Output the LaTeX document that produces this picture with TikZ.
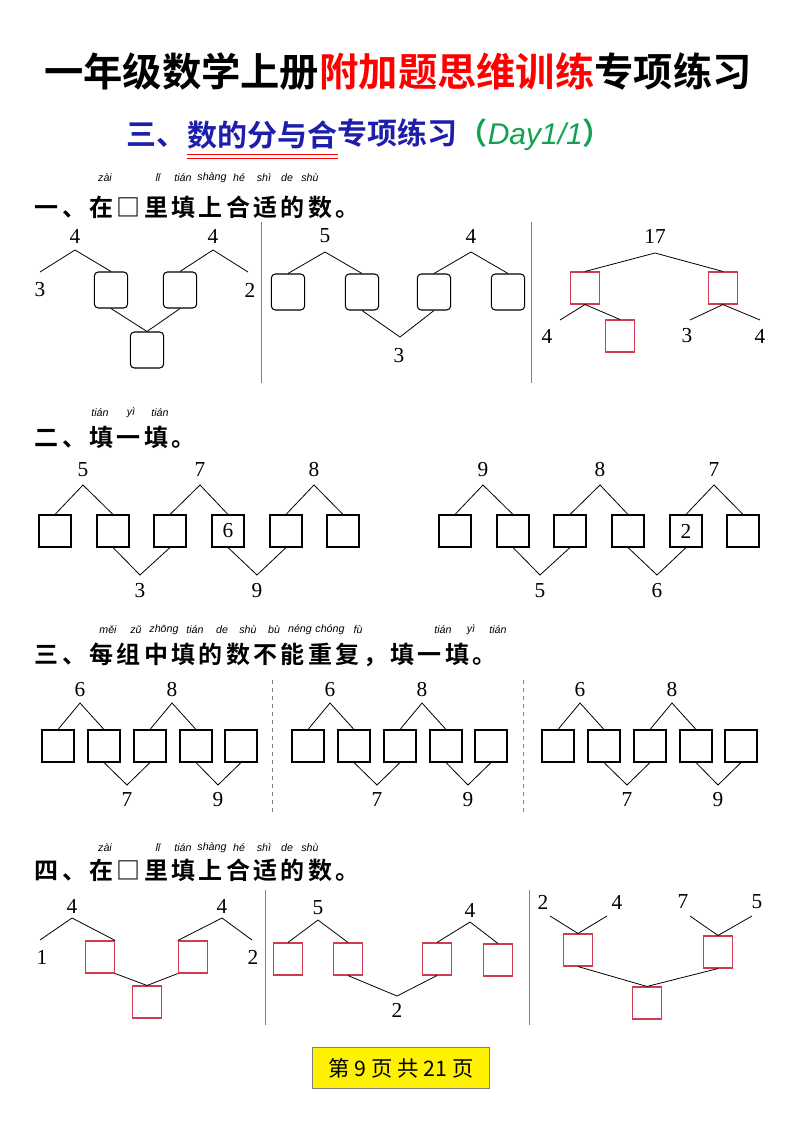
\documentclass[tikz,border=0pt]{standalone}
\usepackage{fontspec}
\setmainfont{Liberation Serif}
\newfontfamily\cjk{Noto Sans CJK SC}
\newfontfamily\cjkb{Noto Sans CJK SC Bold}
\newfontfamily\cjksp[LetterSpace=14]{Noto Sans CJK SC Bold}
\newfontfamily\pyf{Liberation Sans}
\definecolor{rbox}{RGB}{205,60,80}
\definecolor{ttl}{RGB}{30,30,170}
\definecolor{grn}{RGB}{20,160,80}
\begin{document}
\begin{tikzpicture}[x=0.75pt,y=-0.75pt,
  num/.style={font=\fontsize{16}{16}\selectfont},
  bx/.style={draw,thick,rounded corners=3pt,minimum width=25pt,minimum height=27pt,inner sep=0pt},
  sb/.style={draw,thick,minimum width=24pt,minimum height=24pt,inner sep=0pt,font=\fontsize{15}{15}\selectfont},
  rb/.style={draw=rbox,thick,minimum width=22pt,minimum height=24pt,inner sep=0pt},
  ln/.style={line width=0.6pt},
  hd/.style={font=\cjksp\fontsize{18}{18}\selectfont,anchor=west},
  st/.style={font=\cjkb\fontsize{22.5}{22.5}\selectfont,inner sep=0pt,text=ttl},
  py/.style={font=\pyf\itshape\fontsize{8}{8}\selectfont}]
\useasboundingbox (0,0) rectangle (800,1132);
% titles
\node (t1) at (398,72) {\cjkb\fontsize{29.5}{29.5}\selectfont 一年级数学上册\textcolor{red}{附加题思维训练}专项练习};
\node[st,anchor=east] (s1) at (187,135) {三、};
\node[st,anchor=west] (s2) at (s1.east) {数的分与合};
\node[st,anchor=west] (s3) at (s2.east) {专项练习\textcolor{grn}{（\pyf\itshape Day1/1\cjkb）}};
\draw[red,line width=0.8pt] ([yshift=-4pt]s2.south west) -- ([yshift=-4pt]s2.south east)
  ([yshift=-7pt]s2.south west) -- ([yshift=-7pt]s2.south east);
% section 1
\node[hd] (h1) at (30,207) {一、在□里填上合适的数。};
\foreach \p/\x in {zài/105,lǐ/158,tián/183,shàng/212,hé/239,shì/264,de/287,shù/310}{\node[py] at (\x,178) {\p};}
\draw[gray] (261,222) -- (261,383) (531,222) -- (531,383);
\node[num] (a1) at (75,236) {4}; \node[num] (a2) at (213,236) {4};
\node[num] at (40,290) {3}; \node[num] at (250,290) {2};
\node[bx] (b1) at (111,290) {}; \node[bx] (b2) at (180,290) {}; \node[bx] (b3) at (147,350) {};
\coordinate (p1) at (75,250); \coordinate (p2) at (213,250);
\draw[ln] (40,272) -- (p1) -- (b1.north); \draw[ln] (b2.north) -- (p2) -- (248,272);
\draw[ln] (b1.south) -- (b3.north) -- (b2.south);
\node[num] at (325,236) {5}; \node[num] at (471,236) {4};
\node[bx] (c1) at (288,292) {}; \node[bx] (c2) at (362,292) {}; \node[bx] (c3) at (434,292) {}; \node[bx] (c4) at (508,292) {};
\coordinate (q1) at (325,252); \coordinate (q2) at (471,252); \coordinate (q3) at (400,337);
\draw[ln] (c1.north) -- (q1) -- (c2.north); \draw[ln] (c3.north) -- (q2) -- (c4.north);
\draw[ln] (c2.south) -- (q3) -- (c3.south);
\node[num] at (399,356) {3};
\node[num] (d0) at (655,236) {17};
\node[rb] (d1) at (585,288) {}; \node[rb] (d2) at (723,288) {}; \node[rb] (d3) at (620,336) {};
\coordinate (r1) at (655,253);
\draw[ln] (d1.north) -- (r1) -- (d2.north);
\draw[ln] (560,320) -- (d1.south) -- (d3.north); \draw[ln] (690,320) -- (d2.south) -- (760,320);
\node[num] at (547,336) {4}; \node[num] at (687,336) {3}; \node[num] at (760,336) {4};
% section 2
\node[hd] (h2) at (30,437) {二、填一填。};
\foreach \p/\x in {tián/100,yì/131,tián/160}{\node[py] at (\x,413) {\p};}
\foreach \o/\na/\nb/\nc/\nd/\ne in {0/5/7/8/3/9,400/9/8/7/5/6}{
  \begin{scope}[xshift=\o*0.75pt]
  \node[num] at (83,470) {\na}; \node[num] at (200,470) {\nb}; \node[num] at (314,470) {\nc};
  \foreach \i/\x in {1/55,2/113,3/170,4/228,5/286,6/343}{\node[sb] (e\i) at (\x,531) {};}
  \foreach \a/\b/\x in {1/2/83,3/4/200,5/6/314}{\coordinate (ap) at (\x,485); \draw[ln] (e\a.north) -- (ap) -- (e\b.north);}
  \coordinate (v1) at (140,575); \coordinate (v2) at (257,575);
  \draw[ln] (e2.south) -- (v1) -- (e3.south); \draw[ln] (e4.south) -- (v2) -- (e5.south);
  \node[num] at (140,591) {\nd}; \node[num] at (257,591) {\ne};
  \end{scope}}
\node[num] at (228,531) {6}; \node[num] at (686,531) {2};
% section 3
\node[hd] (h3) at (30,655) {三、每组中填的数不能重复，填一填。};
\foreach \p/\x in {měi/108,zǔ/136,zhōng/164,tián/195,de/222,shù/248,bù/274,néng/300,chóng/330,fù/358,tián/443,yì/471,tián/498}{\node[py] at (\x,630) {\p};}
\draw[gray,dashed] (272,680) -- (272,815) (523,680) -- (523,815);
\foreach \o in {0,250,500}{
  \begin{scope}[xshift=\o*0.75pt]
  \node[num] at (80,690) {6}; \node[num] at (172,690) {8};
  \foreach \i/\x in {1/58,2/104,3/150,4/196,5/241}{\node[sb] (f\i) at (\x,746) {};}
  \coordinate (g1) at (80,703); \coordinate (g2) at (172,703);
  \coordinate (w1) at (127,785); \coordinate (w2) at (218,785);
  \draw[ln] (f1.north) -- (g1) -- (f2.north); \draw[ln] (f3.north) -- (g2) -- (f4.north);
  \draw[ln] (f2.south) -- (w1) -- (f3.south); \draw[ln] (f4.south) -- (w2) -- (f5.south);
  \node[num] at (127,800) {7}; \node[num] at (218,800) {9};
  \end{scope}}
% section 4
\node[hd] (h4) at (30,870) {四、在□里填上合适的数。};
\foreach \p/\x in {zài/105,lǐ/158,tián/183,shàng/212,hé/239,shì/264,de/287,shù/310}{\node[py] at (\x,848) {\p};}
\draw[gray] (265,890) -- (265,1025) (529,890) -- (529,1025);
\node[num] at (72,906) {4}; \node[num] at (222,906) {4};
\node[num] at (42,957) {1}; \node[num] at (253,957) {2};
\node[rb] (k1) at (100,957) {}; \node[rb] (k2) at (193,957) {}; \node[rb] (k3) at (147,1002) {};
\coordinate (m1) at (72,918); \coordinate (m2) at (222,918);
\draw[ln] (40,940) -- (m1) -- (k1.north east); \draw[ln] (k2.north west) -- (m2) -- (252,940);
\draw[ln] (k1.south east) -- (k3.north) -- (k2.south west);
\node[num] at (318,908) {5}; \node[num] at (470,910) {4};
\node[rb] (l1) at (288,959) {}; \node[rb] (l2) at (348,959) {}; \node[rb] (l3) at (437,959) {}; \node[rb] (l4) at (498,960) {};
\coordinate (n1) at (318,920); \coordinate (n2) at (470,922); \coordinate (n3) at (397,996);
\draw[ln] (l1.north) -- (n1) -- (l2.north); \draw[ln] (l3.north) -- (n2) -- (l4.north);
\draw[ln] (l2.south) -- (n3) -- (l3.south);
\node[num] at (397,1010) {2};
\node[num] at (543,902) {2}; \node[num] at (617,902) {4}; \node[num] at (683,902) {7}; \node[num] at (757,902) {5};
\node[rb] (s1) at (578,950) {}; \node[rb] (s2) at (718,952) {}; \node[rb] (s3) at (647,1003) {};
\draw[ln] (550,916) -- (s1.north) -- (607,916); \draw[ln] (690,916) -- (s2.north) -- (752,916);
\draw[ln] (s1.south) -- (s3.north) -- (s2.south);
% footer
\node[draw=gray,fill=yellow,minimum width=133pt,minimum height=31pt] (ft) at (401,1068) {\cjk\fontsize{16}{16}\selectfont 第 \textit{9} 页 共 \textit{21} 页};
\end{tikzpicture}
\end{document}
